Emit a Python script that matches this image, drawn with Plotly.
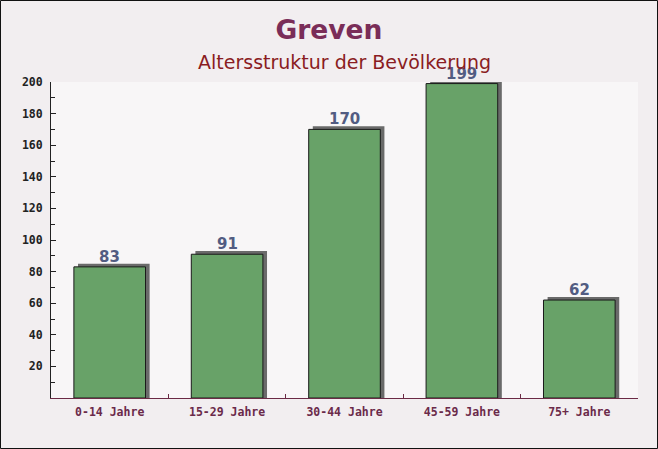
import plotly.graph_objects as go

# Altersgruppen und Einwohnerzahlen
categories = ["0-14 Jahre", "15-29 Jahre", "30-44 Jahre", "45-59 Jahre", "75+ Jahre"]
values = [83, 91, 170, 199, 62]

y_ticks = [20, 40, 60, 80, 100, 120, 140, 160, 180, 200]

W, H = 658, 449
ml, mr, mt, mb = 51, 20, 82, 51

fig = go.Figure()

# grey 3d shadow behind each bar
fig.add_trace(
    go.Bar(
        x=categories,
        y=[v + 2.0 for v in values],
        width=0.61,
        offset=-0.305 + 0.035,
        marker=dict(color="#6a6a6a", line=dict(width=0)),
        hoverinfo="skip",
        showlegend=False,
    )
)

# the bars
fig.add_trace(
    go.Bar(
        x=categories,
        y=values,
        width=0.61,
        offset=-0.305,
        marker=dict(color="#68a268", line=dict(color="#1a1a1a", width=1)),
        showlegend=False,
    )
)

# value labels above the bars
annotations = [
    dict(
        x=c,
        y=v,
        text=str(v),
        showarrow=False,
        yanchor="bottom",
        yshift=-1,
        font=dict(family="DejaVu Sans", size=15, color="#525c82", weight="bold"),
    )
    for c, v in zip(categories, values)
]

# subtitle
annotations.append(
    dict(
        text="Altersstruktur der Bevölkerung",
        xref="paper",
        yref="paper",
        x=0.5,
        y=1 + (mt - 62) / (H - mt - mb),
        yanchor="middle",
        showarrow=False,
        font=dict(family="DejaVu Sans", size=19, color="#8a1c22"),
    )
)

fig.update_layout(
    width=W,
    height=H,
    margin=dict(l=ml, r=mr, t=mt, b=mb),
    barmode="overlay",
    paper_bgcolor="#f2eef0",
    plot_bgcolor="rgba(255,255,255,0.45)",
    title=dict(
        text="<b>Greven</b>",
        x=0.5,
        xanchor="center",
        y=1 - 30 / H,
        yanchor="middle",
        font=dict(family="DejaVu Sans", size=26.5, color="#7a2d58"),
    ),
    annotations=annotations,
    xaxis=dict(
        showgrid=False,
        showline=True,
        linecolor="#6b2a45",
        linewidth=1,
        ticks="inside",
        tickson="boundaries",
        ticklen=4,
        tickcolor="#6b2a45",
        ticklabelstandoff=3,
        tickfont=dict(family="DejaVu Sans Mono", size=11.5, color="#6b2a4a", weight="bold"),
        range=[-0.5, 4.5],
    ),
    yaxis=dict(
        range=[0, 200],
        showgrid=False,
        zeroline=False,
        showline=True,
        linecolor="#222222",
        linewidth=1,
        tickvals=y_ticks,
        ticks="inside",
        ticklen=5,
        tickcolor="#222222",
        ticklabelstandoff=5,
        minor=dict(ticks="inside", ticklen=4, dtick=10, tickcolor="#222222"),
        tickfont=dict(family="DejaVu Sans Mono", size=11.5, color="#222222", weight="bold"),
    ),
    shapes=[
        dict(
            type="rect",
            xref="paper",
            yref="paper",
            x0=-(ml - 0.5) / (W - ml - mr),
            x1=1 + (mr - 0.5) / (W - ml - mr),
            y0=-(mb - 0.5) / (H - mt - mb),
            y1=1 + (mt - 0.5) / (H - mt - mb),
            line=dict(color="#111111", width=1),
            layer="above",
        )
    ],
)

fig.write_html(
    "out.html",
    config={"displayModeBar": False},
    post_script="document.body.style.margin='0';",
)
